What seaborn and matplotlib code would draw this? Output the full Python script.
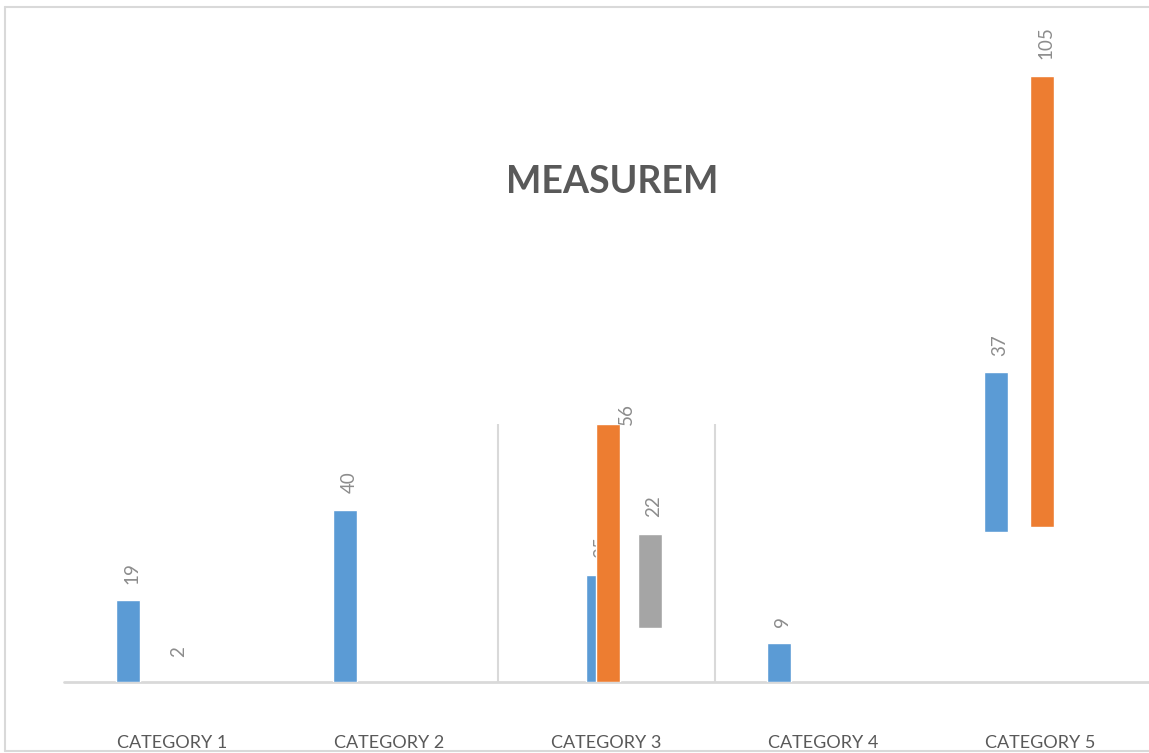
import numpy as np
import matplotlib
matplotlib.use("Agg")
import matplotlib.pyplot as plt
import matplotlib.transforms as mtransforms
from matplotlib.lines import Line2D
import seaborn as sns

# ---- data ----
categories = ["CATEGORY 1", "CATEGORY 2", "CATEGORY 3", "CATEGORY 4", "CATEGORY 5"]
blue_vals = [19, 40, 25, 9, 37]
blue_base = [0, 0, 0, 0, 35]
blue_labels = ["19", "40", "25", "9", "37"]
orange_vals = [2, np.nan, 60, np.nan, 105]
orange_base = [0, np.nan, 0, np.nan, 36]
orange_labels = ["2", "", "56", "", "105"]
orange_label_vals = [2, np.nan, 56, np.nan, 105]
gray_vals = [np.nan, np.nan, 22, np.nan, np.nan]
gray_base = [np.nan, np.nan, 12.5, np.nan, np.nan]
gray_labels = ["", "", "22", "", ""]
title = "MEASUREM"

sns.set_theme(style="white")
plt.rcParams["font.family"] = ["Lato", "DejaVu Sans"]

W, H = 1149, 753
fig = plt.figure(figsize=(W / 100, H / 100), dpi=100)
fig.patch.set_facecolor("white")

px_per_unit = 4.3
ylim_top = 150
ax_left = 63.5 / W
ax_bottom = (H - 682) / H
ax_h = ylim_top * px_per_unit / H
ax = fig.add_axes([ax_left, ax_bottom, 1085 / W, ax_h])
ax.set_xlim(-0.5, 4.5)
ax.set_ylim(0, ylim_top)
for s in ax.spines.values():
    s.set_visible(False)
ax.set_yticks([])
ax.set_xticks([])
ax.set_facecolor("none")

BLUE, ORANGE, GRAY = "#5B9BD5", "#ED7D31", "#A5A5A5"
LINE = "#D9D9D9"
LABEL = "#8C8C8C"
TEXT = "#595959"

bw = 0.11
off = 0.203
x = np.arange(len(categories))
blue_x = (x - off).astype(float)
blue_x[2] = x[2] - 0.037  # category 3 blue bar sits behind the orange one
orange_x = x + 0.01
gray_x = x + off

# gridlines between categories 2|3 and 3|4
ax.vlines([1.5, 2.5], 0, 60, color=LINE, lw=1.5, zorder=1)
ax.axhline(0, color=LINE, lw=2, zorder=1, clip_on=False)

def bars(xs, vals, base, color, z):
    vals = np.asarray(vals, float)
    base = np.asarray(base, float)
    m = ~np.isnan(vals)
    return ax.bar(np.asarray(xs)[m], vals[m], width=bw, bottom=base[m],
                  color=color, zorder=z)

bars(blue_x, blue_vals, blue_base, BLUE, 2)
ob = bars(orange_x, orange_vals, orange_base, ORANGE, 4)
ob[0].set_alpha(0)  # the small orange value in category 1 is not visible
bars(gray_x, gray_vals, gray_base, GRAY, 2)

fs_lab = 13.5
def lab(xv, yv, t, z, dx=4):
    if t == "" or np.isnan(yv):
        return
    ax.annotate(t, (xv, yv), xytext=(dx * 0.72, 12), textcoords="offset points",
                rotation=90, ha="center", va="bottom", color=LABEL,
                fontsize=fs_lab, zorder=z, annotation_clip=False)

for i in range(5):
    lab(blue_x[i], blue_base[i] + blue_vals[i], blue_labels[i], 3)
    if orange_labels[i]:
        dx = 18 if i == 2 else 4
        lab(orange_x[i], orange_base[i] + orange_label_vals[i], orange_labels[i], 5, dx)
    if gray_labels[i]:
        lab(gray_x[i], gray_base[i] + gray_vals[i], gray_labels[i], 5)

# category labels
trans = mtransforms.blended_transform_factory(ax.transData, fig.transFigure)
for i, c in enumerate(categories):
    ax.text(x[i], (H - 748) / H, c, transform=trans, ha="center", va="baseline",
            fontsize=13, color=TEXT)

# title
fig.text(612 / W, (H - 193) / H, title, ha="center", va="baseline",
         fontsize=27, fontweight="bold", color=TEXT)

# outer border (left, top, bottom)
for xs, ys in [([5, 5], [7, 751]), ([5, W], [7, 7]), ([5, W], [751, 751])]:
    fig.add_artist(Line2D([v / W for v in xs], [1 - v / H for v in ys],
                          color=LINE, lw=1.5, transform=fig.transFigure))

fig.savefig("out.png", dpi=100)
